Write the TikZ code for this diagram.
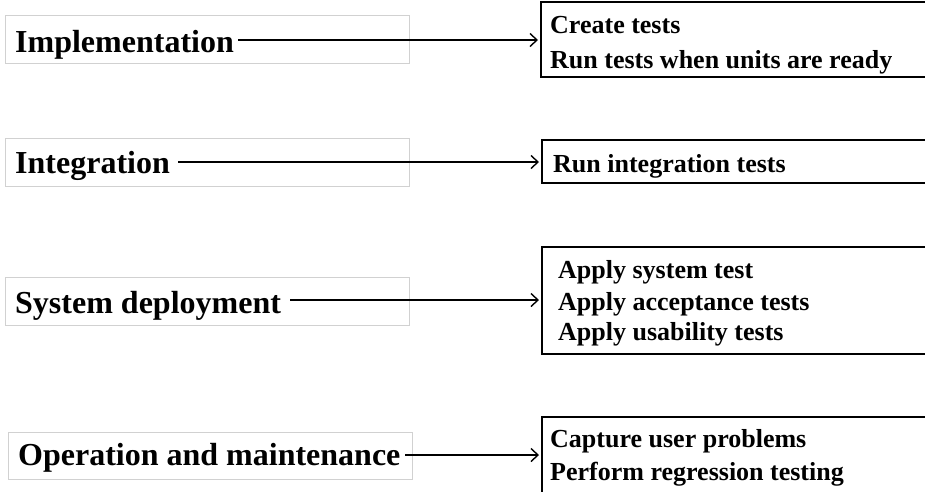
\documentclass[tikz,border=0pt]{standalone}
\usepackage{fontspec}
\setmainfont{Liberation Serif}
\usetikzlibrary{arrows.meta}
\tikzset{
  lbox/.style={draw=black!18, line width=1pt, rectangle, inner sep=0pt, outer sep=0pt, anchor=north west},
  rbox/.style={draw=black, line width=2pt, rectangle, inner sep=0pt, outer sep=0pt, anchor=north west},
  ltext/.style={inner sep=0pt, anchor=base west, font=\fontsize{32}{38}\selectfont\bfseries},
  rtext/.style={inner sep=0pt, anchor=base west, font=\fontsize{26}{31}\selectfont\bfseries},
  arr/.style={line width=2pt, -{Straight Barb[length=7pt,width=13pt,line width=1.4pt]}, shorten >=3pt}
}
\begin{document}
\begin{tikzpicture}[x=1pt,y=1pt]
\useasboundingbox (0,0) rectangle (925,-491);
\clip (0,0) rectangle (925,-491);
% left boxes
\node[lbox, minimum width=404pt, minimum height=48pt] (B1) at (5,-15) {};
\node[lbox, minimum width=404pt, minimum height=48pt] (B2) at (5,-138) {};
\node[lbox, minimum width=404pt, minimum height=48pt] (B3) at (5,-277) {};
\node[lbox, minimum width=404pt, minimum height=47pt] (B4) at (8,-432) {};
\node[ltext] (T1) at (15,-52) {Implementation};
\node[ltext] (T2) at (15,-173) {Integration};
\node[ltext] (T3) at (15,-313) {System deployment};
\node[ltext] (T4) at (18,-465) {Operation and maintenance};
% right boxes
\node[rbox, minimum width=420pt, minimum height=75pt] (R1) at (541,-2) {};
\node[rbox, minimum width=420pt, minimum height=43pt] (R2) at (542,-140) {};
\node[rbox, minimum width=420pt, minimum height=107pt] (R3) at (542,-247) {};
\node[rbox, minimum width=420pt, minimum height=100pt] (R4) at (542,-417) {};
\node[rtext] (R1a) at (550,-33) {Create tests};
\node[rtext] (R1b) at (550,-68) {Run tests when units are ready};
\node[rtext] (R2a) at (553,-172) {Run integration tests};
\node[rtext] (R3a) at (558,-278) {Apply system test};
\node[rtext] (R3b) at (558,-310) {Apply acceptance tests};
\node[rtext] (R3c) at (558,-340) {Apply usability tests};
\node[rtext] (R4a) at (550,-447) {Capture user problems};
\node[rtext] (R4b) at (550,-480) {Perform regression testing};
% arrows
\coordinate (A1) at (238,-40);
\coordinate (A2) at (178,-162);
\coordinate (A3) at (290,-300);
\coordinate (A4) at (405,-455);
\draw[arr] (A1) -- (A1 -| R1.west);
\draw[arr] (A2) -- (A2 -| R2.west);
\draw[arr] (A3) -- (A3 -| R3.west);
\draw[arr] (A4) -- (A4 -| R4.west);
\end{tikzpicture}
\end{document}
